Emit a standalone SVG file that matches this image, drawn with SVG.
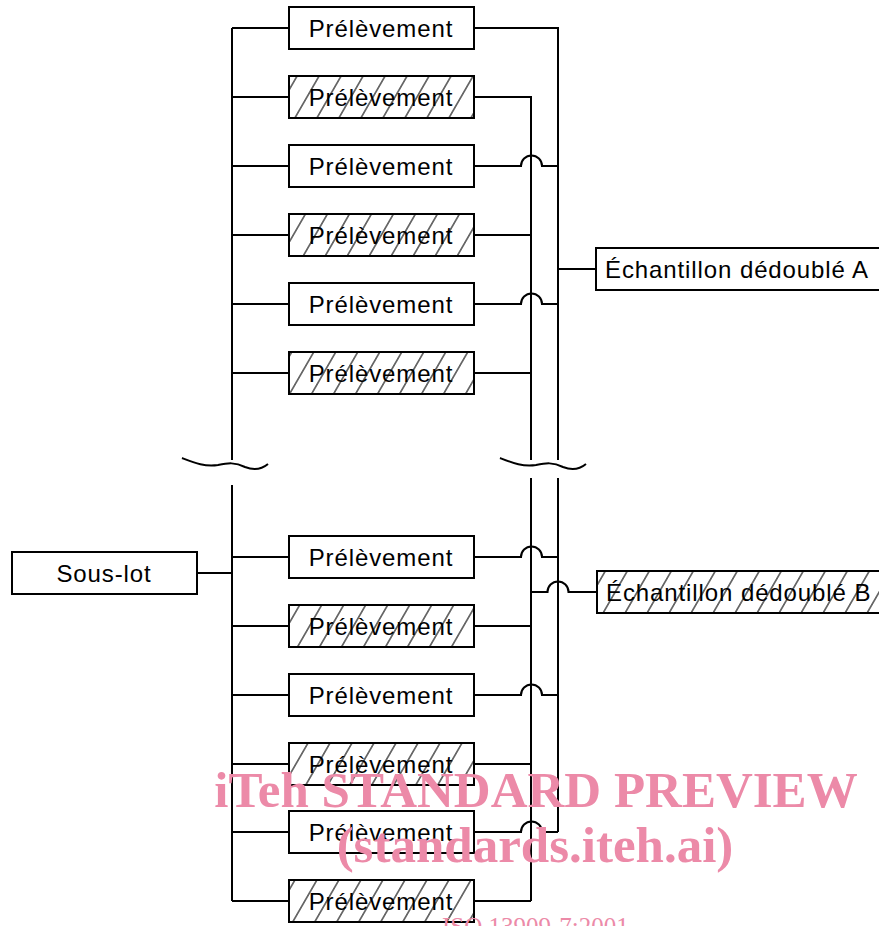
<svg xmlns="http://www.w3.org/2000/svg" width="879" height="926" viewBox="0 0 879 926">
<defs>
<pattern id="hatch" patternUnits="userSpaceOnUse" width="22" height="42" patternTransform="skewX(-30)">
<line x1="11" y1="-1" x2="11" y2="43" stroke="#000" stroke-width="1.2"/>
</pattern>
<style>
.box{fill:#fff;stroke:#000;stroke-width:2}
.hb{fill:url(#hatch);stroke:#000;stroke-width:2}
.t{font-family:"Liberation Sans",Arial,sans-serif;font-size:24px;letter-spacing:0.9px;fill:#000}
.c{text-anchor:middle}
.ln{fill:none;stroke:#000;stroke-width:2}
.wm{font-family:"Liberation Serif","Times New Roman",serif;fill:#ec8aa8}
</style>
</defs>
<rect width="879" height="926" fill="#fff"/>

<g id="connectors" class="ln">
<path d="M232,28 V460 M232,485 V901"/>
<path d="M232,28 H289 M232,97 H289 M232,166 H289 M232,235 H289 M232,304 H289 M232,373 H289"/>
<path d="M232,557 H289 M232,626 H289 M232,695 H289 M232,764 H289 M232,832 H289 M232,901 H289"/>
<path d="M197,573 H232"/>
<path d="M474,28 H558 V460 M558,478 V832"/>
<path d="M474,97 H531 V460 M531,478 V901"/>
<path d="M474,235 H531 M474,373 H531 M474,626 H531 M474,764 H531 M474,901 H531"/>
<path d="M474,166 H521 A10.5,10.5 0 0 1 542,166 H558"/>
<path d="M474,304 H521 A10.5,10.5 0 0 1 542,304 H558"/>
<path d="M474,557 H521 A10.5,10.5 0 0 1 542,557 H558"/>
<path d="M474,695 H521 A10.5,10.5 0 0 1 542,695 H558"/>
<path d="M474,832 H521 A10.5,10.5 0 0 1 542,832 H558"/>
<path d="M558,269 H596"/>
<path d="M531,592 H547.5 A10.5,10.5 0 0 1 568.5,592 H597"/>
<path d="M182,458 C195,463 205,467 218,465 C228,463 235,462 245,467 C255,471 262,469 268,464"/>
<path d="M500,458 C513,463 523,467 536,465 C546,463 553,462 563,467 C573,471 580,469 586,464"/>
</g>

<g id="souslot"><rect class="box" x="12" y="552" width="185" height="42"/><text class="t c" x="104" y="582">Sous-lot</text></g>

<g id="p1"><rect class="box" x="289" y="7" width="185" height="42"/><text class="t c" x="381" y="37">Prélèvement</text></g>
<g id="p2"><rect class="hb" x="289" y="76" width="185" height="42"/><text class="t c" x="381" y="106">Prélèvement</text></g>
<g id="p3"><rect class="box" x="289" y="145" width="185" height="42"/><text class="t c" x="381" y="175">Prélèvement</text></g>
<g id="p4"><rect class="hb" x="289" y="214" width="185" height="42"/><text class="t c" x="381" y="244">Prélèvement</text></g>
<g id="p5"><rect class="box" x="289" y="283" width="185" height="42"/><text class="t c" x="381" y="313">Prélèvement</text></g>
<g id="p6"><rect class="hb" x="289" y="352" width="185" height="42"/><text class="t c" x="381" y="382">Prélèvement</text></g>

<g id="p7"><rect class="box" x="289" y="536" width="185" height="42"/><text class="t c" x="381" y="566">Prélèvement</text></g>
<g id="p8"><rect class="hb" x="289" y="605" width="185" height="42"/><text class="t c" x="381" y="635">Prélèvement</text></g>
<g id="p9"><rect class="box" x="289" y="674" width="185" height="42"/><text class="t c" x="381" y="704">Prélèvement</text></g>
<g id="p10"><rect class="hb" x="289" y="743" width="185" height="42"/><text class="t c" x="381" y="773">Prélèvement</text></g>
<g id="p11"><rect class="box" x="289" y="811" width="185" height="42"/><text class="t c" x="381" y="841">Prélèvement</text></g>
<g id="p12"><rect class="hb" x="289" y="880" width="185" height="42"/><text class="t c" x="381" y="910">Prélèvement</text></g>

<g id="echA"><rect class="box" x="596" y="248" width="300" height="42"/><text class="t" x="605" y="278">Échantillon dédoublé A</text></g>
<g id="echB"><rect class="hb" x="597" y="571" width="300" height="42"/><text class="t" x="606" y="601">Échantillon dédoublé B</text></g>

<g id="watermark">
<text class="wm" x="536" y="807" font-size="51" font-weight="bold" text-anchor="middle">iTeh STANDARD PREVIEW</text>
<text class="wm" x="535" y="862" font-size="51" font-weight="bold" text-anchor="middle">(standards.iteh.ai)</text>
<text class="wm" x="442" y="935" font-size="25">ISO 13909-7:2001</text>
</g>
</svg>
